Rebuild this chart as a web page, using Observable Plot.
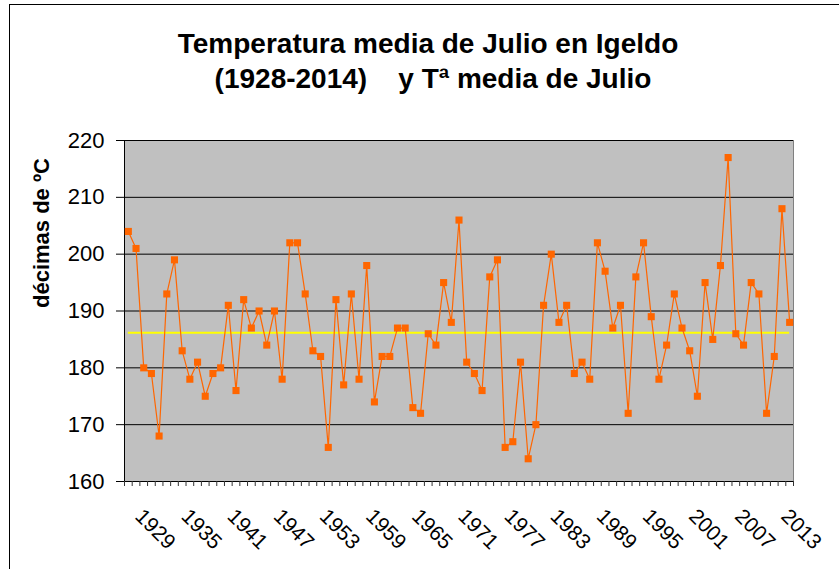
<!DOCTYPE html>
<html>
<head>
<meta charset="utf-8">
<script src="https://cdn.jsdelivr.net/npm/d3@7"></script>
<script src="https://cdn.jsdelivr.net/npm/@observablehq/plot@0.6"></script>
<style>
  body { margin: 0; background: #fff; font-family: "Liberation Sans", Arial, sans-serif; }
  #wrap { position: relative; width: 839px; height: 569px; overflow: hidden; background: #fff; }
  #border { position: absolute; left: 9px; top: 4px; width: 900px; height: 700px; border: 1.5px solid #000; box-sizing: border-box; }
  #title { position: absolute; left: 0; top: 0; width: 856px; height: 110px; text-align: center;
           font-weight: bold; color: #000; white-space: pre; }
  #title .l1 { position: absolute; left: 0; width: 856px; top: 26px; font-size: 28px; line-height: 35px; }
  #title .l2 { position: absolute; left: 0; width: 866px; top: 61px; font-size: 28px; line-height: 35px; }
  #chart { position: absolute; left: 0; top: 110px; }
</style>
</head>
<body>
<div id="wrap">
  <div id="border"></div>
  <div id="title"><div class="l1"></div><div class="l2"></div></div>
  <div id="chart"></div>
</div>
<script>
const titleLines = ["Temperatura media de Julio en Igeldo", "(1928-2014)    y Tª media de Julio"];
const yLabel = "décimas de ºC";
const years = d3.range(1928, 2015);
const values = [
  204, 201, 180, 179, 168, 193, 199, 183, 178, 181,
  175, 179, 180, 191, 176, 192, 187, 190, 184, 190,
  178, 202, 202, 193, 183, 182, 166, 192, 177, 193,
  178, 198, 174, 182, 182, 187, 187, 173, 172, 186,
  184, 195, 188, 206, 181, 179, 176, 196, 199, 166,
  167, 181, 164, 170, 191, 200, 188, 191, 179, 181,
  178, 202, 197, 187, 191, 172, 196, 202, 189, 178,
  184, 193, 187, 183, 175, 195, 185, 198, 217, 186,
  184, 195, 193, 172, 182, 208, 188
];
const labelYears = [1929, 1935, 1941, 1947, 1953, 1959, 1965, 1971, 1977, 1983, 1989, 1995, 2001, 2007, 2013];
const yTicks = [160, 170, 180, 190, 200, 210, 220];

const data = years.map((year, i) => ({year, value: values[i]}));
const meanValue = d3.mean(values);
const xDomain = [years[0] - 0.5, years[years.length - 1] + 0.5];
const yDomain = [yTicks[0], yTicks[yTicks.length - 1]];
const boundaries = years.map(y => y - 0.5).concat([years[years.length - 1] + 0.5]);

document.querySelector("#title .l1").textContent = titleLines[0];
document.querySelector("#title .l2").textContent = titleLines[1];

const chart = Plot.plot({
  width: 839,
  height: 459,
  marginTop: 30,
  marginBottom: 88,
  marginLeft: 124,
  marginRight: 46,
  style: { fontFamily: "'Liberation Sans', Arial, sans-serif", background: "transparent", color: "#000" },
  x: { domain: xDomain, type: "linear" },
  y: { domain: yDomain },
  marks: [
    Plot.frame({ fill: "#c0c0c0", stroke: "#808080" }),
    Plot.ruleY(yTicks, { stroke: "#000", strokeWidth: 1 }),
    Plot.ruleX([xDomain[0]], { stroke: "#000", strokeWidth: 1 }),
    Plot.axisY({ ticks: yTicks, tickSize: 8, tickPadding: 12, fontSize: 22, label: null, stroke: "#000" }),
    Plot.axisX({ ticks: boundaries, tickSize: 5, tickFormat: () => "", label: null, stroke: "#333" }),
    Plot.text(labelYears, { x: d => d, text: d => String(d), frameAnchor: "bottom", rotate: 45, textAnchor: "start", dx: -2, dy: 36, fontSize: 21, fill: "#000" }),
    Plot.text([yLabel], { text: d => d, frameAnchor: "left", rotate: -90, dx: -83, dy: -3, fontSize: 22, fontWeight: "bold", fill: "#000" }),
    Plot.ruleY([meanValue], { x1: years[0], x2: years[years.length - 1], stroke: "#ffff00", strokeWidth: 2 }),
    Plot.line(data, { x: "year", y: "value", stroke: "#ff6600", strokeWidth: 1.2 }),
    Plot.dot(data, { x: "year", y: "value", symbol: "square", r: 4, fill: "#ff6600", stroke: "none" })
  ]
});
document.getElementById("chart").appendChild(chart);
</script>
</body>
</html>
